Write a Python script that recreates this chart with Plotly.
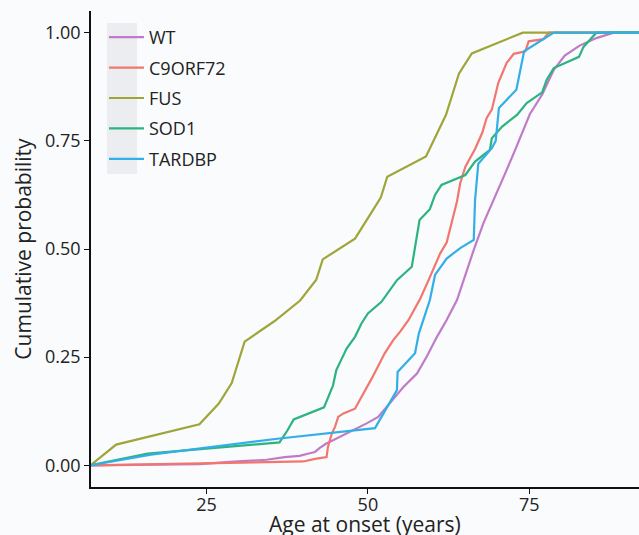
import plotly.graph_objects as go

# ---- data (age at onset, cumulative probability) ----
series_names = ["WT", "C9ORF72", "FUS", "SOD1", "TARDBP"]
series_colors = ["#C07BC8", "#F2766E", "#A0A53A", "#2DB37F", "#33AEE6"]

wt_age = [7, 24, 28.6, 34.3, 37.1, 39.4, 41.0, 41.8, 42.5, 43.5, 44.6, 47.2, 49.8, 51.6,
          53.4, 55.5, 57.6, 59.1, 60.7, 62.2, 63.8, 65.3, 66.4, 67.9, 69.7, 71.3, 72.7,
          73.5, 75.1, 77.0, 78.8, 80.5, 82.8, 85.5, 88.1, 95]
wt_p = [0, 0.003, 0.008, 0.013, 0.019, 0.022, 0.028, 0.031, 0.040, 0.050, 0.058, 0.077,
        0.097, 0.112, 0.143, 0.181, 0.212, 0.251, 0.297, 0.336, 0.382, 0.452, 0.498, 0.560,
        0.620, 0.676, 0.725, 0.755, 0.812, 0.857, 0.914, 0.947, 0.970, 0.988, 1.0, 1.0]

c9_age = [7, 37.1, 40.0, 41.8, 43.6, 43.8, 44.4, 44.9, 45.4, 46.2, 48.0, 49.0, 49.8, 50.6,
          51.4, 52.6, 53.9, 55.0, 56.3, 57.3, 58.1, 59.4, 60.7, 61.2, 62.2, 63.0, 63.8,
          64.3, 65.1, 66.6, 67.7, 68.4, 69.2, 70.2, 71.5, 72.6, 74.4, 74.9, 77.2, 78.0, 95]
c9_p = [0, 0.008, 0.009, 0.015, 0.019, 0.042, 0.073, 0.089, 0.112, 0.120, 0.131, 0.158,
        0.178, 0.201, 0.224, 0.259, 0.289, 0.309, 0.336, 0.363, 0.385, 0.428, 0.471, 0.490,
        0.515, 0.563, 0.610, 0.652, 0.690, 0.731, 0.768, 0.803, 0.822, 0.884, 0.930, 0.951,
        0.957, 0.980, 0.985, 1.0, 1.0]

fus_age = [7, 11.0, 23.9, 26.9, 28.9, 30.9, 35.5, 39.5, 42.0, 43.0, 48.0, 52.0, 53.0,
           59.0, 62.1, 64.1, 66.1, 74.0, 95]
fus_p = [0, 0.048, 0.095, 0.143, 0.190, 0.286, 0.333, 0.381, 0.429, 0.476, 0.524, 0.619,
         0.667, 0.714, 0.810, 0.905, 0.952, 1.0, 1.0]

sod1_age = [7, 15.9, 36.3, 37.5, 38.5, 42.5, 43.2, 44.6, 45.1, 45.9, 46.7, 48.0, 49.0,
            50.0, 52.1, 54.5, 56.8, 58.0, 59.6, 60.4, 61.4, 65.1, 66.6, 68.9, 69.2, 70.8,
            73.1, 74.6, 77.0, 77.7, 78.8, 82.7, 83.4, 85.4, 95]
sod1_p = [0, 0.027, 0.053, 0.080, 0.106, 0.131, 0.134, 0.185, 0.220, 0.245, 0.270, 0.297,
          0.328, 0.351, 0.378, 0.428, 0.459, 0.567, 0.592, 0.625, 0.648, 0.671, 0.702,
          0.729, 0.756, 0.783, 0.810, 0.837, 0.862, 0.891, 0.918, 0.944, 0.967, 1.0, 1.0]

tardbp_age = [7, 16.4, 36.3, 42.5, 51.1, 54.5, 54.6, 57.3, 57.9, 59.6, 60.4, 62.2, 64.3,
              66.4, 66.6, 67.1, 69.2, 69.8, 70.3, 73.0, 74.2, 78.8, 95]
tardbp_p = [0, 0.025, 0.062, 0.072, 0.086, 0.174, 0.216, 0.259, 0.305, 0.382, 0.440, 0.478,
            0.502, 0.521, 0.613, 0.697, 0.733, 0.750, 0.826, 0.868, 0.957, 1.0, 1.0]

x_ticks = [25, 50, 75]
y_ticks = [0, 0.25, 0.5, 0.75, 1.0]
y_tick_labels = ["0.00", "0.25", "0.50", "0.75", "1.00"]
x_title = "Age at onset (years)"
y_title = "Cumulative probability"

all_x = [wt_age, c9_age, fus_age, sod1_age, tardbp_age]
all_y = [wt_p, c9_p, fus_p, sod1_p, tardbp_p]

FONT = "Open Sans"
W, H = 639, 535
L, R, T, B = 91, 0, 11, 48

fig = go.Figure()
for name, col, xs, ys in zip(series_names, series_colors, all_x, all_y):
    fig.add_trace(go.Scatter(x=xs, y=ys, mode="lines", name=name, legendgroup=name,
                             line=dict(color=col, width=2.2)))

axis_common = dict(showgrid=False, zeroline=False, showline=True, linecolor="#111111",
                   linewidth=1.5, ticks="outside", ticklen=5, tickwidth=1.2, automargin=False,
                   tickcolor="#111111", tickfont=dict(family=FONT, size=18, color="#222222"))

fig.update_xaxes(range=[7.1, 92.0], tickvals=x_ticks, mirror=False, ticklabelstandoff=-4,
                 **axis_common)
fig.update_yaxes(range=[-0.05, 1.05], tickvals=y_ticks, ticktext=y_tick_labels,
                 title=dict(text=y_title, font=dict(family=FONT, size=21, color="#222222"),
                            standoff=8),
                 **axis_common)

pw = W - L - R
ph = H - T - B
def px_x(p):  # screen pixel -> paper x
    return (p - L) / pw
def px_y(p):  # screen pixel -> paper y
    return (H - B - p) / ph

# x-axis title placed as annotation (slightly cut by the bottom edge as in the reference)
fig.add_annotation(text=x_title, xref="paper", yref="paper", x=0.5, y=px_y(524),
                   xanchor="center", yanchor="middle", showarrow=False,
                   font=dict(family=FONT, size=21, color="#222222"))

fig.add_shape(type="rect", xref="paper", yref="paper", layer="below",
              x0=px_x(107), x1=px_x(137), y0=px_y(174), y1=px_y(23),
              fillcolor="#EBEDF0", line=dict(width=0))

fig.update_layout(
    width=W, height=H,
    margin=dict(l=L, r=R, t=T, b=B, autoexpand=False),
    paper_bgcolor="#F9FBFC", plot_bgcolor="#F9FBFC",
    font=dict(family=FONT, size=18, color="#222222"),
    legend=dict(x=px_x(104), y=px_y(19), xanchor="left", yanchor="top",
                bgcolor="rgba(0,0,0,0)", font=dict(family=FONT, size=18, color="#222222"),
                tracegroupgap=4, itemwidth=35),
    showlegend=True,
)

fig.write_html("out.html", config={"displayModeBar": False},
               post_script="document.body.style.margin='0px';document.body.style.overflow='hidden';")
